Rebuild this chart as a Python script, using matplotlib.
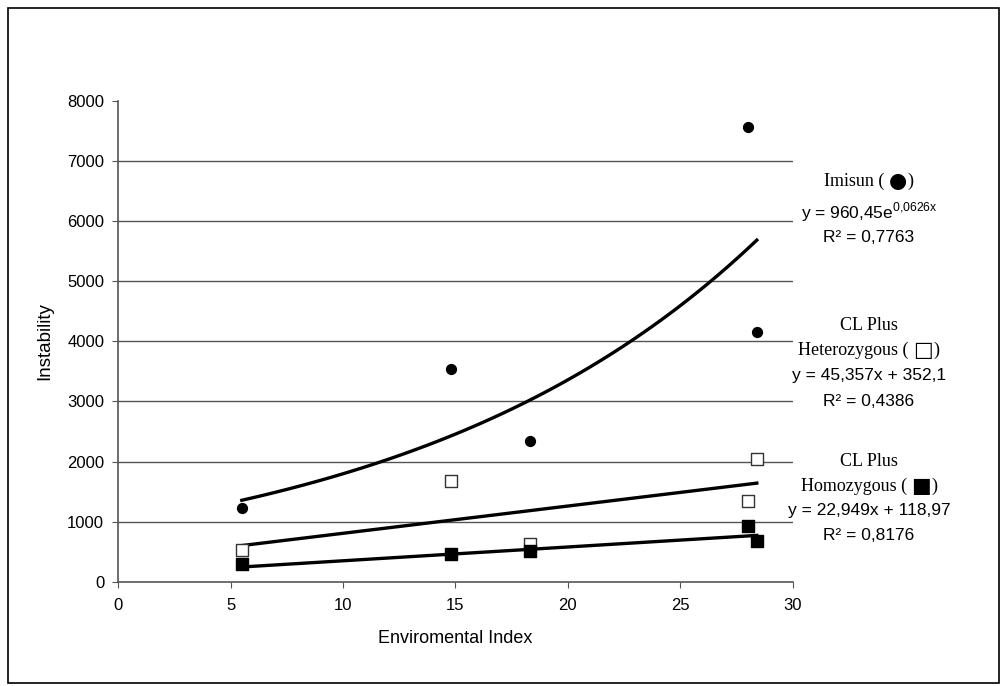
import numpy as np
import matplotlib.pyplot as plt
from matplotlib.patches import Rectangle

# Environmental index values and instability for each genotype
imisun_x = [5.5, 14.8, 18.3, 28.0, 28.4]
imisun_y = [1233, 3540, 2333, 7570, 4160]

het_x = [5.5, 14.8, 18.3, 28.0, 28.4]
het_y = [523, 1678, 628, 1350, 2040]

hom_x = [5.5, 14.8, 18.3, 28.0, 28.4]
hom_y = [290, 462, 517, 933, 678]

# Trend line coefficients (as printed on the chart)
exp_a, exp_b = 960.45, 0.0626
het_slope, het_int = 45.357, 352.1
hom_slope, hom_int = 22.949, 118.97

plt.rcParams['font.family'] = ['Liberation Sans', 'DejaVu Sans']

fig = plt.figure(figsize=(10.01, 6.86), dpi=100)
ax = fig.add_axes([0.118, 0.152, 0.674, 0.701])

# outer frame around the whole chart
fig.patches.append(Rectangle((0.008, 0.004), 0.990, 0.984, transform=fig.transFigure,
                             fill=False, edgecolor='black', linewidth=1.2))

# gridlines
for g in range(1000, 8000, 1000):
    ax.axhline(g, color='#555555', linewidth=1.0, zorder=1)

# trend lines
xs = np.linspace(5.5, 28.4, 100)
ax.plot(xs, exp_a * np.exp(exp_b * xs), color='black', linewidth=2.4, zorder=2)
ax.plot(xs, het_slope * xs + het_int, color='black', linewidth=2.4, zorder=2)
ax.plot(xs, hom_slope * xs + hom_int, color='black', linewidth=2.4, zorder=2)

# data points
ax.scatter(imisun_x, imisun_y, marker='o', s=50, color='black', zorder=3)
ax.scatter(het_x, het_y, marker='s', s=65, facecolor='white', edgecolor='#333333',
           linewidth=1.0, zorder=3)
ax.scatter(hom_x, hom_y, marker='s', s=65, color='black', zorder=3)

ax.set_xlim(0, 30)
ax.set_ylim(0, 8000)
ax.set_xticks(range(0, 31, 5))
ax.set_yticks(range(0, 8001, 1000))
ax.tick_params(axis='both', labelsize=12, color='#555555', length=4, direction='out')
ax.tick_params(axis='x', pad=8)
ax.tick_params(axis='y', pad=6)
for side in ['top', 'right']:
    ax.spines[side].set_visible(False)
for side in ['left', 'bottom']:
    ax.spines[side].set_color('#555555')
    ax.spines[side].set_linewidth(1.2)

ax.set_xlabel('Enviromental Index', fontsize=13, labelpad=12)
ax.set_ylabel('Instability', fontsize=13.5, labelpad=10)

serif = ['Liberation Serif', 'DejaVu Serif']
tx = 0.868
renderer = fig.canvas.get_renderer()


def name_with_symbol(y, name, symbol):
    # name in serif, with a bigger symbol between brackets, centred as a group
    parts = [(name + ' ( ', serif, 13), (symbol, ['DejaVu Sans'], 15), (')', serif, 13)]
    texts = [fig.text(0, y, s, ha='left', va='center', fontsize=fs, family=fam)
             for s, fam, fs in parts]
    widths = [t.get_window_extent(renderer).width / fig.bbox.width for t in texts]
    x = tx - sum(widths) / 2
    for t, w in zip(texts, widths):
        t.set_x(x)
        x += w


def line(y, s, **kw):
    fig.text(tx, 1 - y / 686, s, ha='center', va='center', **kw)


# equation annotations
name_with_symbol(1 - 181 / 686, 'Imisun', '\u25CF')
line(212, r'y = 960,45e$^{\mathregular{0{,}0626x}}$', fontsize=12.5)
line(237, 'R\u00b2 = 0,7763', fontsize=12.5)

line(325, 'CL Plus', fontsize=13, family=serif)
name_with_symbol(1 - 350 / 686, 'Heterozygous', '\u25A1')
line(376, 'y = 45,357x + 352,1', fontsize=12.5)
line(401, 'R\u00b2 = 0,4386', fontsize=12.5)

line(461, 'CL Plus', fontsize=13, family=serif)
name_with_symbol(1 - 486 / 686, 'Homozygous', '\u25A0')
line(510, 'y = 22,949x + 118,97', fontsize=12.5)
line(535, 'R\u00b2 = 0,8176', fontsize=12.5)

plt.savefig('out.png', dpi=100, facecolor='white')
